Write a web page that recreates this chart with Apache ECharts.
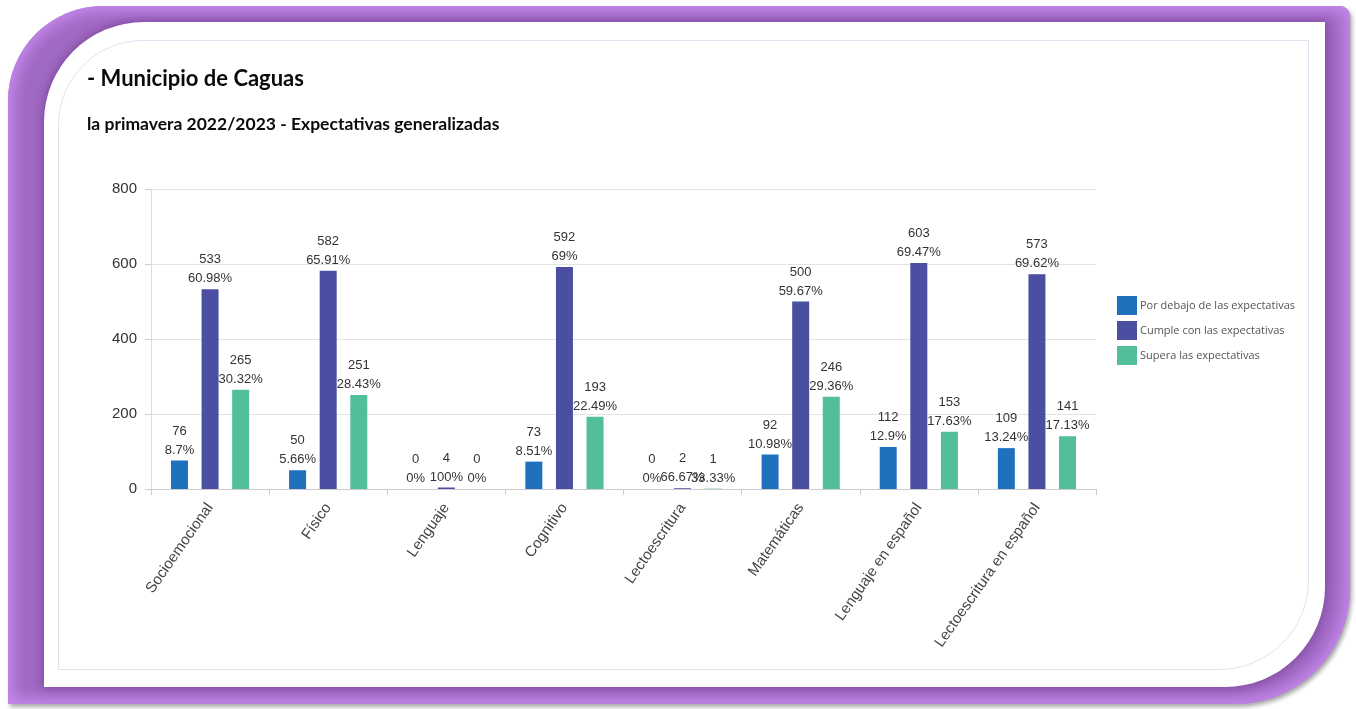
<!DOCTYPE html>
<html>
<head>
<meta charset="utf-8">
<script src="https://cdn.jsdelivr.net/npm/echarts@6/dist/echarts.min.js"></script>
<style>
html,body{margin:0;padding:0;background:#ffffff;width:1356px;height:709px;overflow:hidden;}
#frame{position:absolute;left:8px;top:6px;width:1342px;height:698px;border-radius:95px 10px 115px 0;
 background:#a069c3;box-shadow:inset 0 0 14px 6px #c587ec, 2px 3px 4px rgba(0,0,0,0.35);}
#panel{position:absolute;left:44px;top:22px;width:1281px;height:665px;background:#fff;border-radius:100px 0 100px 0;
 box-shadow:0 0 10px 2px rgba(90,40,120,0.45);}
#line{position:absolute;left:58px;top:40px;width:1249px;height:628px;border:1px solid #e4dff0;border-radius:85px 0 90px 0;}
#chart{position:absolute;left:0;top:0;width:1356px;height:709px;}
</style>
</head>
<body>
<div id="frame"></div>
<div id="panel"></div>
<div id="line"></div>
<div id="chart"></div>
<script>
const titleText = "- Municipio de Caguas";
const subtitleText = "la primavera 2022/2023 - Expectativas generalizadas";
const categories = ["Socioemocional","Físico","Lenguaje","Cognitivo","Lectoescritura","Matemáticas","Lenguaje en español","Lectoescritura en español"];
const seriesNames = ["Por debajo de las expectativas","Cumple con las expectativas","Supera las expectativas"];
const porDebajo = [76, 50, 0, 73, 0, 92, 112, 109];
const porDebajoPct = [8.7, 5.66, 0, 8.51, 0, 10.98, 12.9, 13.24];
const cumple = [533, 582, 4, 592, 2, 500, 603, 573];
const cumplePct = [60.98, 65.91, 100, 69, 66.67, 59.67, 69.47, 69.62];
const supera = [265, 251, 0, 193, 1, 246, 153, 141];
const superaPct = [30.32, 28.43, 0, 22.49, 33.33, 29.36, 17.63, 17.13];
const yTicks = [0, 200, 400, 600, 800];

const colors = ["#1f71bd", "#4a4fa2", "#52bf9a"];
const values = [porDebajo, cumple, supera];
const pcts = [porDebajoPct, cumplePct, superaPct];

const chart = echarts.init(document.getElementById('chart'));
chart.setOption({
  animation: false,
  title: [
    {text: titleText, left: 82, top: 63, textStyle: {fontFamily: 'Lato', fontWeight: 'bold', fontSize: 22, color: '#0a0a0a'}},
    {text: subtitleText, left: 82, top: 110, textStyle: {fontFamily: 'Lato', fontWeight: 'bold', fontSize: 17.5, color: '#0a0a0a'}}
  ],
  legend: {
    orient: 'vertical', left: 1112, top: 291,
    itemWidth: 20, itemHeight: 19, itemGap: 6, icon: 'rect',
    data: seriesNames,
    textStyle: {fontFamily: 'Open Sans', fontSize: 11, color: '#555', padding: [0,0,0,-2]}
  },
  grid: {left: 151, right: 260, top: 189, bottom: 220, containLabel: false},
  xAxis: {
    type: 'category', data: categories,
    axisLine: {lineStyle: {color: '#ccc'}},
    axisTick: {show: true, length: 6, lineStyle: {color: '#ccc'}},
    axisLabel: {rotate: 55, fontFamily: 'Liberation Sans', fontSize: 15, color: '#444', margin: 16, interval: 0}
  },
  yAxis: {
    type: 'value', min: yTicks[0], max: yTicks[yTicks.length-1], interval: 200,
    axisLine: {show: true, lineStyle: {color: '#ddd'}},
    axisTick: {show: true, length: 6, lineStyle: {color: '#ccc'}},
    splitLine: {lineStyle: {color: '#e3e3e3'}},
    axisLabel: {fontFamily: 'Liberation Sans', fontSize: 15, color: '#333', margin: 14}
  },
  series: seriesNames.map((name, i) => ({
    name: name, type: 'bar', data: values[i],
    barWidth: 17, barGap: '80%',
    itemStyle: {color: colors[i]},
    label: {
      show: true, position: 'top', distance: 1,
      fontFamily: 'Liberation Sans', fontSize: 13, color: '#333', lineHeight: 19,
      formatter: p => p.value + '\n' + pcts[i][p.dataIndex] + '%'
    }
  }))
});
</script>
</body>
</html>
